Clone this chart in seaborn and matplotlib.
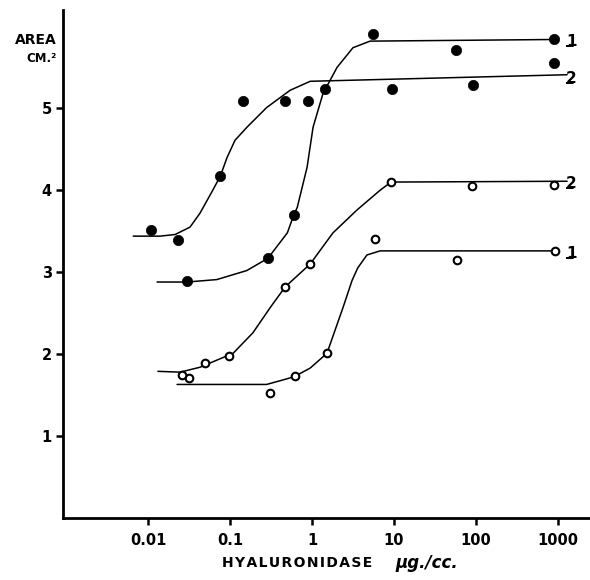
import numpy as np
import pandas as pd
import matplotlib
matplotlib.use("Agg")
import matplotlib.pyplot as plt
import seaborn as sns

# ---- data ----
# filled circles, curve 1
f1_x = [0.030, 0.29, 0.60, 1.44, 5.5, 57, 890]
f1_y = [2.89, 3.17, 3.70, 5.24, 5.91, 5.71, 5.84]
# filled circles, curve 2
f2_x = [0.011, 0.023, 0.076, 0.144, 0.47, 0.89, 9.5, 92, 890]
f2_y = [3.52, 3.39, 4.17, 5.09, 5.09, 5.09, 5.24, 5.29, 5.55]
# open circles, curve 1
o1_x = [0.032, 0.31, 0.62, 1.52, 5.9, 58, 920]
o1_y = [1.71, 1.52, 1.73, 2.01, 3.41, 3.15, 3.26]
# open circles, curve 2
o2_x = [0.026, 0.050, 0.097, 0.47, 0.95, 9.2, 90, 890]
o2_y = [1.74, 1.89, 1.98, 2.82, 3.10, 4.10, 4.05, 4.06]

# hand-drawn curves
cf1_x = [0.0129, 0.030, 0.069, 0.16, 0.29, 0.50, 0.60, 0.66, 0.87, 1.03, 1.36, 2.02, 3.16, 5.1, 870]
cf1_y = [2.88, 2.88, 2.91, 3.02, 3.17, 3.48, 3.70, 3.79, 4.28, 4.77, 5.18, 5.50, 5.74, 5.82, 5.84]
cf2_x = [0.0066, 0.014, 0.0214, 0.0325, 0.043, 0.060, 0.076, 0.092, 0.115, 0.161, 0.28, 0.54, 0.95, 1290]
cf2_y = [3.44, 3.44, 3.46, 3.55, 3.72, 3.98, 4.17, 4.40, 4.61, 4.77, 5.01, 5.22, 5.33, 5.41]
co1_x = [0.0226, 0.28, 0.50, 0.62, 0.95, 1.52, 2.39, 3.08, 3.6, 4.67, 6.76, 920]
co1_y = [1.63, 1.63, 1.70, 1.73, 1.83, 2.01, 2.57, 2.90, 3.05, 3.21, 3.26, 3.26]
co2_x = [0.0132, 0.0246, 0.043, 0.109, 0.19, 0.31, 0.47, 0.95, 1.80, 3.54, 6.76, 9.2, 1290]
co2_y = [1.79, 1.78, 1.84, 2.01, 2.26, 2.57, 2.82, 3.10, 3.48, 3.76, 4.00, 4.10, 4.11]

curve_labels = ["1", "2", "2", "1"]
curve_label_y = [5.91, 5.46, 4.17, 3.325]

x_ticks = [0.01, 0.1, 1, 10, 100, 1000]
x_ticklabels = ["0.01", "0.1", "1", "10", "100", "1000"]
y_ticks = [1, 2, 3, 4, 5]

sns.set_theme(style="white")
plt.rcParams["font.family"] = ["DejaVu Sans"]
plt.rcParams["text.color"] = "black"

fig = plt.figure(figsize=(5.9, 5.8), dpi=100)
ax = fig.add_axes([63/590, 62/580, 527/590, 508/580])

for cx, cy in [(cf1_x, cf1_y), (cf2_x, cf2_y), (co1_x, co1_y), (co2_x, co2_y)]:
    d = pd.DataFrame({"x": cx, "y": cy})
    sns.lineplot(data=d, x="x", y="y", sort=False, estimator=None, color="black",
                 linewidth=1.1, ax=ax)

for px, py in [(f1_x, f1_y), (f2_x, f2_y)]:
    d = pd.DataFrame({"x": px, "y": py})
    sns.scatterplot(data=d, x="x", y="y", color="black", s=55, edgecolor="black",
                    linewidth=0.5, ax=ax, zorder=5)
for px, py in [(o1_x, o1_y), (o2_x, o2_y)]:
    d = pd.DataFrame({"x": px, "y": py})
    sns.scatterplot(data=d, x="x", y="y", facecolor="white", s=30, edgecolor="black",
                    linewidth=1.5, ax=ax, zorder=5)

ax.set_xscale("log")
ax.set_xlim(10**-3.037, 10**3.39)
ax.set_ylim(0, 6.2)
ax.set_xticks(x_ticks)
ax.set_xticklabels(x_ticklabels)
ax.minorticks_off()
ax.set_yticks(y_ticks)
ax.set_yticklabels([str(v) for v in y_ticks])
for lbl in ax.get_xticklabels() + ax.get_yticklabels():
    lbl.set_fontweight("bold")
    lbl.set_fontsize(10.5)
    lbl.set_color("black")
ax.tick_params(axis="both", direction="out", length=5, width=1.8, color="black",
               bottom=True, left=True, pad=3)
ax.tick_params(axis="x", pad=6)
for s in ["top", "right"]:
    ax.spines[s].set_visible(False)
for s in ["left", "bottom"]:
    ax.spines[s].set_color("black")
    ax.spines[s].set_linewidth(2)
ax.set_xlabel("")
ax.set_ylabel("")

# curve labels on the right (underlined numerals)
for lab, ly in zip(curve_labels, curve_label_y):
    ax.text(1250, ly, lab + "\n\u203e", fontsize=11, fontweight="bold", ha="left",
            va="top", linespacing=0.75)

fig.text(57/590, 1 - 40/580, "AREA", fontsize=10, fontweight="bold", ha="right", va="center")
fig.text(57/590, 1 - 59/580, "CM.\u00b2", fontsize=8.5, fontweight="bold", ha="right", va="center")
spaced = "\u200a".join("HYALURONIDASE")
fig.text(222/590, 1 - 563/580, spaced, fontsize=10, fontweight="bold",
         ha="left", va="center")
fig.text(395/590, 1 - 563/580, "\u03bcg./cc.", fontsize=12, fontweight="bold",
         fontstyle="italic", ha="left", va="center")

fig.savefig("out.png", dpi=100, facecolor="white")
